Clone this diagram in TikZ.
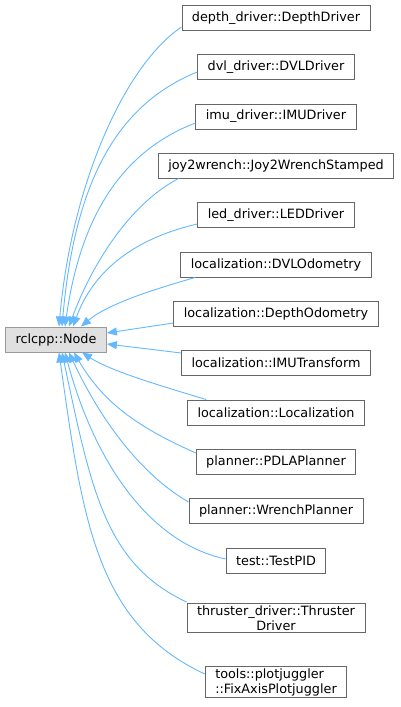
\documentclass[tikz,border=0pt]{standalone}
\usepackage{fontspec}
\setmainfont{DejaVu Sans}
\usepackage{xcolor}
\usetikzlibrary{arrows.meta,positioning}
\definecolor{dxblue}{HTML}{63B8FF}
\definecolor{dxframe}{HTML}{666666}
\definecolor{dxbaseframe}{HTML}{999999}
\definecolor{dxbasefill}{HTML}{E0E0E0}

\begin{document}
\begin{tikzpicture}[
  x=1pt, y=1pt,
  font=\fontsize{12.8}{15}\selectfont,
  cls/.style={draw=dxframe, fill=white, line width=0.9pt,
              minimum height=25pt, inner xsep=10pt, inner ysep=2pt, align=center},
  basecls/.style={cls, draw=dxbaseframe, fill=dxbasefill},
  inh/.style={{Triangle[length=10pt,width=8pt]}-, dxblue, line width=0.9pt}
]
\useasboundingbox (0,0) rectangle (401,707);

% --- base class ---
\node[basecls] (rclnode) at (56,367.5) {rclcpp::Node};

% --- derived classes, one column ---
\node[cls] (depthdrv)  at (276,689)   {depth\_driver::DepthDriver};
\node[cls] (dvldrv)    at (276,640)   {dvl\_driver::DVLDriver};
\node[cls] (imudrv)    at (276,590.5) {imu\_driver::IMUDriver};
\node[cls] (joywrench) at (276,541.5) {joy2wrench::Joy2WrenchStamped};
\node[cls] (leddrv)    at (276,492)   {led\_driver::LEDDriver};
\node[cls] (dvlodom)   at (276,442.5) {localization::DVLOdometry};
\node[cls] (depthodom) at (276,393.5) {localization::DepthOdometry};
\node[cls] (imutf)     at (276,344)   {localization::IMUTransform};
\node[cls] (locz)      at (276,294.5) {localization::Localization};
\node[cls] (pdla)      at (276,245)   {planner::PDLAPlanner};
\node[cls] (wrenchpl)  at (276,196)   {planner::WrenchPlanner};
\node[cls] (testpid)   at (276,146.5) {test::TestPID};
\node[cls] (thruster)  at (276,89)    {thruster\_driver::Thruster\\Driver};
\node[cls, align=left] (plotjug) at (276,25) {tools::plotjuggler\\::FixAxisPlotjuggler};

% inheritance edges, arrow at the base class
% - upper half, into the top side
\draw[inh] ([xshift=3pt]rclnode.north)  to[out=85,in=214,in distance=70,out distance=140]  ([yshift=-9pt]depthdrv.west);
\draw[inh] ([xshift=6pt]rclnode.north)  to[out=85,in=202,in distance=90,out distance=140]  ([yshift=-5pt]dvldrv.west);
\draw[inh] ([xshift=9pt]rclnode.north)  to[out=82,in=201,in distance=80,out distance=110]  ([yshift=-6.5pt]imudrv.west);
\draw[inh] ([xshift=13pt]rclnode.north) to[out=70,in=207,in distance=55,out distance=65]   ([xshift=21pt]joywrench.south west);
\draw[inh] ([xshift=17pt]rclnode.north) to[out=70,in=193,in distance=70,out distance=55]   ([yshift=-9pt]leddrv.west);
\draw[inh] ([xshift=25pt]rclnode.north) to[out=40,in=196,in distance=45,out distance=35]   ([xshift=15pt]dvlodom.south west);
% - middle, into the right side
\draw[inh] ([yshift=6.5pt]rclnode.east)  -- ([yshift=-9.5pt]depthodom.west);
\draw[inh] ([yshift=-4.5pt]rclnode.east) -- ([yshift=10pt]imutf.west);
% - lower half, into the bottom side
\draw[inh] ([xshift=26pt]rclnode.south) to[out=-33,in=163,in distance=45,out distance=35]  ([xshift=19pt]locz.north west);
\draw[inh] ([xshift=18pt]rclnode.south) to[out=-60,in=156,in distance=60,out distance=60]  ([yshift=9pt]pdla.west);
\draw[inh] ([xshift=13pt]rclnode.south) to[out=-65,in=150,in distance=55,out distance=75]  ([yshift=9pt]wrenchpl.west);
\draw[inh] ([xshift=9pt]rclnode.south)  to[out=-75,in=168,in distance=80,out distance=110] ([yshift=1.5pt]testpid.west);
\draw[inh] ([xshift=6pt]rclnode.south)  to[out=-78,in=155,in distance=90,out distance=140] ([yshift=16pt]thruster.west);
\draw[inh] ([xshift=3pt]rclnode.south)  to[out=-82,in=155,in distance=120,out distance=170] ([yshift=8pt]plotjug.west);

\end{tikzpicture}
\end{document}
